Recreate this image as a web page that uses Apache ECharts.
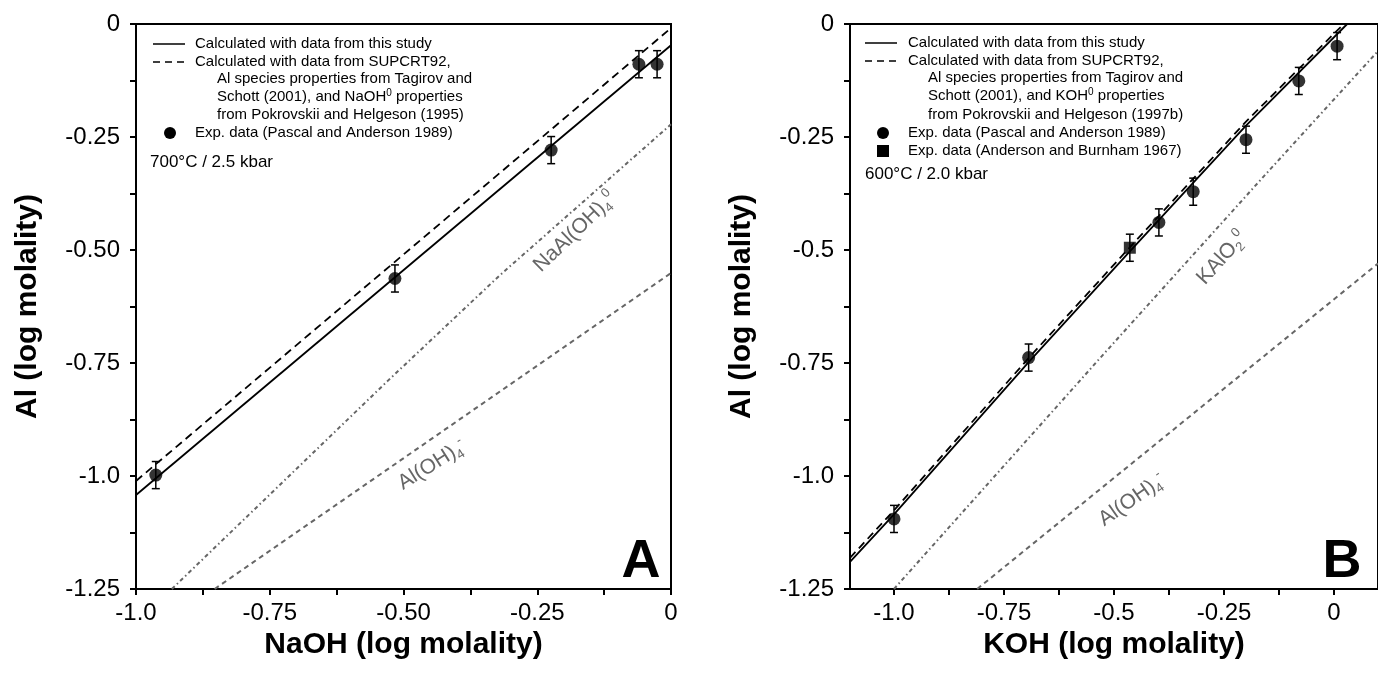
<!DOCTYPE html>
<html>
<head>
<meta charset="utf-8">
<title>Al solubility vs NaOH / KOH</title>
<script src="https://cdn.jsdelivr.net/npm/echarts@6/dist/echarts.min.js"></script>
<style>
html,body{margin:0;padding:0;background:#fff;}
#main{width:1378px;height:675px;}
</style>
</head>
<body>
<div id="main"></div>
<script>
// ---------- panel A : NaOH, 700 C / 2.5 kbar ----------
var naExpX = [-0.963, -0.516, -0.224, -0.060, -0.026];
var naExpY = [-0.998, -0.563, -0.279, -0.089, -0.089];
var naExpErr = [0.03, 0.03, 0.03, 0.03, 0.03];
var naStudyX = [-1.0, 0.0];
var naStudyY = [-1.042, -0.047];
var naSupX = [-1.0, 0.0];
var naSupY = [-1.011, -0.009];
var naNeutralX = [-0.933, -0.529, -0.320, 0.0];     // NaAl(OH)4 0
var naNeutralY = [-1.25, -0.789, -0.556, -0.222];
var naAnionX = [-0.853, 0.0];                        // Al(OH)4 -
var naAnionY = [-1.25, -0.551];
var naXLabelVals = [-1.0, -0.75, -0.5, -0.25, 0];
var naXLabels = ['-1.0', '-0.75', '-0.50', '-0.25', '0'];
var naYLabelVals = [-1.25, -1.0, -0.75, -0.5, -0.25, 0];
var naYLabels = ['-1.25', '-1.0', '-0.75', '-0.50', '-0.25', '0'];
var naXTicks = [-1.0, -0.875, -0.75, -0.625, -0.5, -0.375, -0.25, -0.125, 0];

// ---------- panel B : KOH, 600 C / 2.0 kbar ----------
var kExpX = [-1.0, -0.694, -0.398, -0.32, -0.2, -0.08, 0.007];
var kExpY = [-1.095, -0.738, -0.439, -0.371, -0.256, -0.126, -0.049];
var kExpErr = [0.03, 0.03, 0.03, 0.03, 0.03, 0.03, 0.03];
var kAbX = [-0.464];                                 // Anderson and Burnham 1967
var kAbY = [-0.495];
var kAbErr = [0.03];
var kStudyX = [-1.1, -1.0, -0.694, -0.464, -0.2, 0.03];
var kStudyY = [-1.19, -1.085, -0.748, -0.503, -0.225, 0.0];
var kSupX = [-1.1, -1.0, -0.694, -0.464, -0.2, 0.022];
var kSupY = [-1.181, -1.076, -0.739, -0.494, -0.216, 0.0];
var kNeutralX = [-1.0, -0.538, -0.167, 0.1];         // KAlO2 0
var kNeutralY = [-1.25, -0.746, -0.345, -0.06];
var kAnionX = [-0.811, 0.1];                         // Al(OH)4 -
var kAnionY = [-1.25, -0.53];
var kXLabelVals = [-1.0, -0.75, -0.5, -0.25, 0];
var kXLabels = ['-1.0', '-0.75', '-0.5', '-0.25', '0'];
var kYLabelVals = [-1.25, -1.0, -0.75, -0.5, -0.25, 0];
var kYLabels = ['-1.25', '-1.0', '-0.75', '-0.5', '-0.25', '0'];
var kXTicks = [-1.0, -0.875, -0.75, -0.625, -0.5, -0.375, -0.25, -0.125, 0];

var yTicks = [-1.25, -1.125, -1.0, -0.875, -0.75, -0.625, -0.5, -0.375, -0.25, -0.125, 0];

var FONT = "'Liberation Sans', Arial, Helvetica, sans-serif";
var GRAY = '#666666';

function zip(xs, ys){
	return xs.map(function(x, i){ return [x, ys[i]]; });
}
function labelFor(vals, labels){
	return function(v){
		for (var i = 0; i < vals.length; i++) {
			if (Math.abs(vals[i] - v) < 1e-9) return labels[i];
		}
		return '';
	};
}

function makeX(gi, min, max, ticks, lvals, labels, name){
	return {
		type: 'value', gridIndex: gi, min: min, max: max,
		name: name, nameLocation: 'middle', nameGap: 40,
		nameTextStyle: {fontSize: 30, fontWeight: 'bold', color: '#000', fontFamily: FONT},
		axisLine: {onZero: false, lineStyle: {color: '#000', width: 2}},
		axisTick: {customValues: ticks, length: 6, lineStyle: {color: '#000', width: 2}},
		axisLabel: {customValues: lvals, formatter: labelFor(lvals, labels), fontSize: 24, color: '#000', fontFamily: FONT, margin: 12},
		splitLine: {show: false}
	};
}
function makeY(gi, lvals, labels){
	return {
		type: 'value', gridIndex: gi, min: -1.25, max: 0,
		name: 'Al (log molality)', nameLocation: 'middle', nameGap: 93,
		nameTextStyle: {fontSize: 30, fontWeight: 'bold', color: '#000', fontFamily: FONT},
		axisLine: {onZero: false, lineStyle: {color: '#000', width: 2}},
		axisTick: {customValues: yTicks, length: 6, lineStyle: {color: '#000', width: 2}},
		axisLabel: {customValues: lvals, formatter: labelFor(lvals, labels), fontSize: 24, color: '#000', fontFamily: FONT, margin: 16},
		splitLine: {show: false}
	};
}

function lineSeries(gi, xs, ys, style){
	return {
		type: 'line', xAxisIndex: gi, yAxisIndex: gi, data: zip(xs, ys),
		symbol: 'none', silent: true, clip: true, z: 2,
		lineStyle: style
	};
}
function errSeries(gi, xs, ys, es){
	return {
		type: 'custom', xAxisIndex: gi, yAxisIndex: gi, silent: true, z: 3,
		data: xs.map(function(x, i){ return [x, ys[i] - es[i], ys[i] + es[i]]; }),
		encode: {x: 0, y: [1, 2]},
		renderItem: function(params, api){
			var lo = api.coord([api.value(0), api.value(1)]);
			var hi = api.coord([api.value(0), api.value(2)]);
			var w = 4, st = {stroke: '#000', lineWidth: 1.5};
			return {type: 'group', children: [
				{type: 'line', shape: {x1: lo[0], y1: lo[1], x2: hi[0], y2: hi[1]}, style: st},
				{type: 'line', shape: {x1: lo[0] - w, y1: lo[1], x2: lo[0] + w, y2: lo[1]}, style: st},
				{type: 'line', shape: {x1: hi[0] - w, y1: hi[1], x2: hi[0] + w, y2: hi[1]}, style: st}
			]};
		}
	};
}
function pointSeries(gi, xs, ys, symbol, size){
	return {
		type: 'scatter', xAxisIndex: gi, yAxisIndex: gi, data: zip(xs, ys),
		symbol: symbol, symbolSize: size, silent: true, z: 4,
		itemStyle: {color: '#000'}
	};
}

var solid = {color: '#000', width: 1.8, type: 'solid'};
var dashed = {color: '#000', width: 1.8, type: [8, 5]};
var grayDot = {color: GRAY, width: 2, type: [4, 3, 1.5, 3]};
var grayDash = {color: GRAY, width: 2, type: [5, 4]};

// ---------- legend and annotations (drawn as graphic) ----------
var txtRich = {
	t: {fontSize: 15, fontFamily: FONT, fill: '#000', lineHeight: 18},
	p: {fontSize: 10, fontFamily: FONT, fill: '#000', lineHeight: 18, verticalAlign: 'top'}
};
function lgText(x, y, txt){
	return {type: 'text', x: x, y: y, z: 10,
		style: {text: txt, rich: txtRich, verticalAlign: 'middle', align: 'left'}};
}
function lgLine(x1, x2, y, dash){
	return {type: 'line', z: 10, shape: {x1: x1, y1: y, x2: x2, y2: y},
		style: {stroke: '#000', lineWidth: 1.5, lineDash: dash || null}};
}
var grayRich = {
	m: {fontSize: 21, fontFamily: FONT, fill: GRAY, lineHeight: 26},
	s: {fontSize: 13, fontFamily: FONT, fill: GRAY, lineHeight: 26, verticalAlign: 'bottom'},
	p: {fontSize: 13, fontFamily: FONT, fill: GRAY, lineHeight: 26, verticalAlign: 'top'}
};
function speciesLabel(x, y, deg, txt){
	return {type: 'text', x: x, y: y, rotation: deg * Math.PI / 180, z: 10,
		style: {text: txt, rich: grayRich, align: 'center', verticalAlign: 'middle'}};
}

var graphics = [
	// legend A
	lgLine(153, 185, 44),
	lgText(195, 44, '{t|Calculated with data from this study}'),
	lgLine(153, 185, 62, [7, 5]),
	lgText(195, 62, '{t|Calculated with data from SUPCRT92,}'),
	lgText(217, 79, '{t|Al species properties from Tagirov and}'),
	lgText(217, 97, '{t|Schott (2001), and NaOH}{p|0}{t| properties}'),
	lgText(217, 115, '{t|from Pokrovskii and Helgeson (1995)}'),
	{type: 'circle', z: 10, shape: {cx: 170, cy: 133, r: 6}, style: {fill: '#000'}},
	lgText(195, 133, '{t|Exp. data (Pascal and Anderson 1989)}'),
	{type: 'text', x: 150, y: 162, z: 10, style: {text: '700°C / 2.5 kbar', fontSize: 17, fontFamily: FONT, fill: '#000', verticalAlign: 'middle'}},
	// legend B
	lgLine(865, 897, 43),
	lgText(908, 43, '{t|Calculated with data from this study}'),
	lgLine(865, 897, 61, [7, 5]),
	lgText(908, 61, '{t|Calculated with data from SUPCRT92,}'),
	lgText(928, 78, '{t|Al species properties from Tagirov and}'),
	lgText(928, 96, '{t|Schott (2001), and KOH}{p|0}{t| properties}'),
	lgText(928, 115, '{t|from Pokrovskii and Helgeson (1997b)}'),
	{type: 'circle', z: 10, shape: {cx: 883, cy: 133, r: 6}, style: {fill: '#000'}},
	lgText(908, 133, '{t|Exp. data (Pascal and Anderson 1989)}'),
	{type: 'rect', z: 10, shape: {x: 877, y: 145, width: 12, height: 12}, style: {fill: '#000'}},
	lgText(908, 151, '{t|Exp. data (Anderson and Burnham 1967)}'),
	{type: 'text', x: 865, y: 174, z: 10, style: {text: '600°C / 2.0 kbar', fontSize: 17, fontFamily: FONT, fill: '#000', verticalAlign: 'middle'}},
	// species labels
	speciesLabel(575, 232, 44, '{m|NaAl(OH)}{s|4}{p|0}'),
	speciesLabel(432, 465, 32, '{m|Al(OH)}{s|4}{p|-}'),
	speciesLabel(1222, 258, 48, '{m|KAlO}{s|2}{p|0}'),
	speciesLabel(1132, 500, 35, '{m|Al(OH)}{s|4}{p|-}'),
	// panel letters
	{type: 'text', x: 641, y: 562, z: 10, style: {text: 'A', fontSize: 54, fontWeight: 'bold', fontFamily: FONT, fill: '#000', align: 'center', verticalAlign: 'middle'}},
	{type: 'text', x: 1342, y: 562, z: 10, style: {text: 'B', fontSize: 54, fontWeight: 'bold', fontFamily: FONT, fill: '#000', align: 'center', verticalAlign: 'middle'}}
];

var chart = echarts.init(document.getElementById('main'), null, {renderer: 'canvas'});
var option = {
	backgroundColor: '#fff',
	animation: false,
	textStyle: {fontFamily: FONT},
	grid: [
		{left: 136, top: 24, right: 707, bottom: 86, show: true, borderColor: '#000', borderWidth: 2},
		{left: 850, top: 24, right: -5, bottom: 86, show: true, borderColor: '#000', borderWidth: 2}
	],
	xAxis: [
		makeX(0, -1.0, 0, naXTicks, naXLabelVals, naXLabels, 'NaOH (log molality)'),
		makeX(1, -1.1, 0.1, kXTicks, kXLabelVals, kXLabels, 'KOH (log molality)')
	],
	yAxis: [
		makeY(0, naYLabelVals, naYLabels),
		makeY(1, kYLabelVals, kYLabels)
	],
	series: [
		lineSeries(0, naNeutralX, naNeutralY, grayDot),
		lineSeries(0, naAnionX, naAnionY, grayDash),
		lineSeries(0, naSupX, naSupY, dashed),
		lineSeries(0, naStudyX, naStudyY, solid),
		errSeries(0, naExpX, naExpY, naExpErr),
		pointSeries(0, naExpX, naExpY, 'circle', 13),

		lineSeries(1, kNeutralX, kNeutralY, grayDot),
		lineSeries(1, kAnionX, kAnionY, grayDash),
		lineSeries(1, kSupX, kSupY, dashed),
		lineSeries(1, kStudyX, kStudyY, solid),
		errSeries(1, kExpX, kExpY, kExpErr),
		errSeries(1, kAbX, kAbY, kAbErr),
		pointSeries(1, kExpX, kExpY, 'circle', 13),
		pointSeries(1, kAbX, kAbY, 'rect', 12)
	],
	graphic: graphics
};
chart.setOption(option);
</script>
</body>
</html>
